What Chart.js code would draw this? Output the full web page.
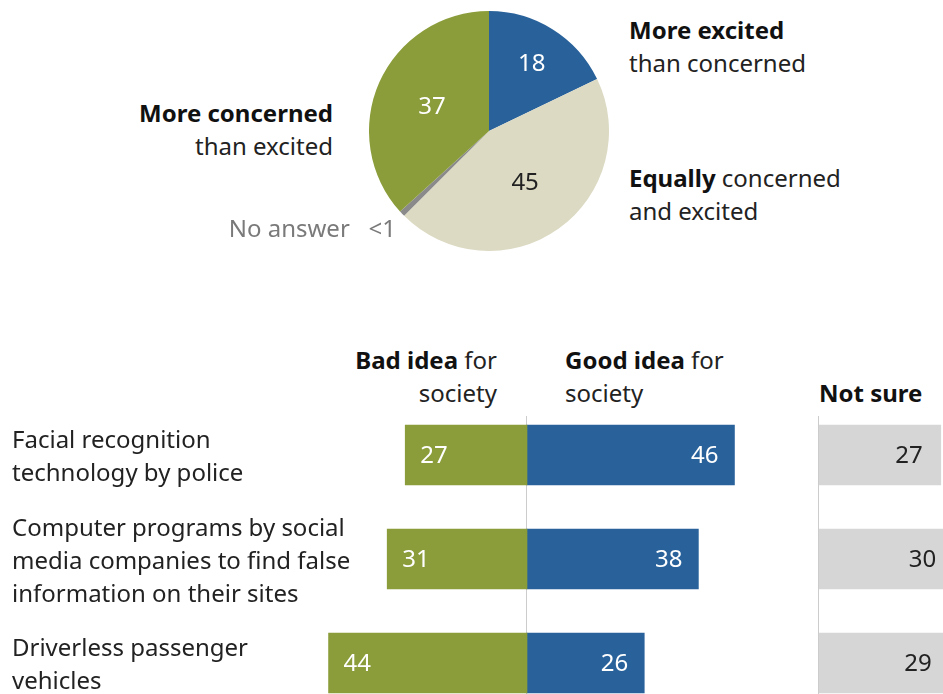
<!DOCTYPE html>
<html>
<head>
<meta charset="utf-8">
<script src="https://cdn.jsdelivr.net/npm/chart.js@4"></script>
<style>
  body { margin: 0; width: 943px; height: 694px; overflow: hidden; position: relative; background: #fff;
         font-family: 'Noto Sans', sans-serif; font-size: 24px; color: #222; }
  .box { position: absolute; }
  .txt { position: absolute; line-height: 33px; white-space: nowrap; }
  .txt b { font-weight: 700; color: #111; }
</style>
</head>
<body>
  <div class="box" style="left:369px; top:11px; width:240px; height:240px;"><canvas id="pieChart"></canvas></div>

  <div class="txt" style="left:629px; top:13px;"><b>More excited</b><br>than concerned</div>
  <div class="txt" style="left:629px; top:161px;"><b>Equally</b> concerned<br>and excited</div>
  <div class="txt" style="right:610px; top:96px; text-align:right;"><b>More concerned</b><br>than excited</div>
  <div class="txt" style="right:547px; top:211px; color:#7a7a7a; white-space:pre;">No answer   &lt;1</div>

  <div class="txt" style="right:446px; top:343px; text-align:right;"><b>Bad idea</b> for<br>society</div>
  <div class="txt" style="left:565px; top:343px;"><b>Good idea</b> for<br>society</div>
  <div class="txt" style="left:819px; top:376px;"><b>Not sure</b></div>

  <div class="box" id="ideaBox" style="left:0; top:403px; width:760px; height:312px;"><canvas id="ideaChart"></canvas></div>
  <div class="box" style="left:807px; top:403px; width:463px; height:312px;"><canvas id="notSureChart"></canvas></div>

<script>
// Pie: views on AI in daily life
const pieCategories = ['More excited than concerned', 'Equally concerned and excited', 'No answer', 'More concerned than excited'];
const pieValues = [18, 45, 0.8, 37];
const pieColors = ['#29629b', '#dcdac3', '#8a8a8a', '#8a9d3a'];
const pieTextColors = ['#fff', '#222', '#222', '#fff'];

// Bars: uses of AI
const categories = [
  ['Facial recognition', 'technology by police'],
  ['Computer programs by social', 'media companies to find false', 'information on their sites'],
  ['Driverless passenger', 'vehicles'],
];
const badIdea = [27, 31, 44];
const goodIdea = [46, 38, 26];
const notSure = [27, 30, 29];

const green = '#8a9d3a';
const blue = '#29629b';
const grey = '#d6d6d6';

Chart.defaults.font.family = "'Noto Sans', sans-serif";
Chart.defaults.animation = false;

// numbers inside pie slices
const pieLabelPlugin = {
  id: 'pieLabels',
  afterDatasetsDraw(chart) {
    const ctx = chart.ctx;
    const meta = chart.getDatasetMeta(0);
    ctx.save();
    ctx.font = '24px "Noto Sans", sans-serif';
    ctx.textAlign = 'center';
    ctx.textBaseline = 'middle';
    meta.data.forEach((arc, i) => {
      const v = pieValues[i];
      if (v < 1) return;
      const p = arc.getProps(['x', 'y', 'startAngle', 'endAngle', 'outerRadius'], true);
      const mid = (p.startAngle + p.endAngle) / 2;
      const r = p.outerRadius * (v < 25 ? 0.67 : 0.52);
      ctx.fillStyle = pieTextColors[i];
      ctx.fillText(String(v), p.x + Math.cos(mid) * r, p.y + Math.sin(mid) * r + 1);
    });
    ctx.restore();
  },
};

new Chart(document.getElementById('pieChart'), {
  type: 'pie',
  data: {
    labels: pieCategories,
    datasets: [{ data: pieValues, backgroundColor: pieColors, borderWidth: 0 }],
  },
  options: {
    responsive: true,
    maintainAspectRatio: false,
    layout: { padding: 0 },
    plugins: { legend: { display: false }, tooltip: { enabled: false } },
  },
  plugins: [pieLabelPlugin],
});

// vertical rule at zero, starting a bit below the chart top
const zeroLinePlugin = {
  id: 'zeroLine',
  beforeDatasetsDraw(chart) {
    const ctx = chart.ctx;
    const x = Math.round(chart.scales.x.getPixelForValue(0)) - 0.5;
    ctx.save();
    ctx.strokeStyle = '#cccccc';
    ctx.lineWidth = 1;
    ctx.beginPath();
    ctx.moveTo(x, chart.chartArea.top + 13);
    ctx.lineTo(x, chart.chartArea.bottom);
    ctx.stroke();
    ctx.restore();
  },
};

// value labels on bars
function barLabels(rules) {
  return {
    id: 'barLabels',
    afterDatasetsDraw(chart) {
      const ctx = chart.ctx;
      ctx.save();
      ctx.font = '24px "Noto Sans", sans-serif';
      ctx.textBaseline = 'middle';
      chart.data.datasets.forEach((ds, di) => {
        const rule = rules[di];
        chart.getDatasetMeta(di).data.forEach((bar, i) => {
          const v = Math.abs(ds.data[i]);
          ctx.fillStyle = rule.color;
          if (rule.side === 'left') {
            ctx.textAlign = 'left';
            ctx.fillText(String(v), Math.min(bar.x, bar.base) + rule.pad, bar.y + 1);
          } else {
            ctx.textAlign = 'right';
            ctx.fillText(String(v), Math.max(bar.x, bar.base) - rule.pad, bar.y + 1);
          }
        });
      });
      ctx.restore();
    },
  };
}

const ideaChart = new Chart(document.getElementById('ideaChart'), {
  type: 'bar',
  data: {
    labels: categories.map((c) => c.join(' ')),
    datasets: [
      { label: 'Bad idea for society', data: badIdea.map((v) => -v), backgroundColor: green },
      { label: 'Good idea for society', data: goodIdea, backgroundColor: blue },
    ],
  },
  options: {
    indexAxis: 'y',
    responsive: true,
    maintainAspectRatio: false,
    layout: { padding: { left: 301.5, right: 7.5, top: 0, bottom: 0 } },
    datasets: { bar: { barThickness: 60, borderWidth: 0 } },
    scales: {
      x: { stacked: true, display: false, min: -50, max: 50 },
      y: { stacked: true, display: false },
    },
    plugins: { legend: { display: false }, tooltip: { enabled: false } },
  },
  plugins: [zeroLinePlugin, barLabels([
    { side: 'left', pad: 15, color: '#fff' },
    { side: 'right', pad: 16, color: '#fff' },
  ])],
});

// category labels as page text, placed on the chart's category rows
const boxTop = document.getElementById('ideaBox').offsetTop;
categories.forEach((lines, i) => {
  const el = document.createElement('div');
  el.className = 'txt';
  el.style.left = '12px';
  el.style.top = (boxTop + ideaChart.scales.y.getPixelForValue(i) - lines.length * 16.5) + 'px';
  el.innerHTML = lines.join('<br>');
  document.body.appendChild(el);
});

new Chart(document.getElementById('notSureChart'), {
  type: 'bar',
  data: {
    labels: categories.map((c) => c.join(' ')),
    datasets: [{ label: 'Not sure', data: notSure, backgroundColor: grey }],
  },
  options: {
    indexAxis: 'y',
    responsive: true,
    maintainAspectRatio: false,
    layout: { padding: { left: 12, right: 0, top: 0, bottom: 0 } },
    datasets: { bar: { barThickness: 60, borderWidth: 0 } },
    scales: {
      x: { display: false, min: 0, max: 100 },
      y: { display: false },
    },
    plugins: { legend: { display: false }, tooltip: { enabled: false } },
  },
  plugins: [zeroLinePlugin, barLabels([{ side: 'right', pad: 18, color: '#222' }])],
});
</script>
</body>
</html>
